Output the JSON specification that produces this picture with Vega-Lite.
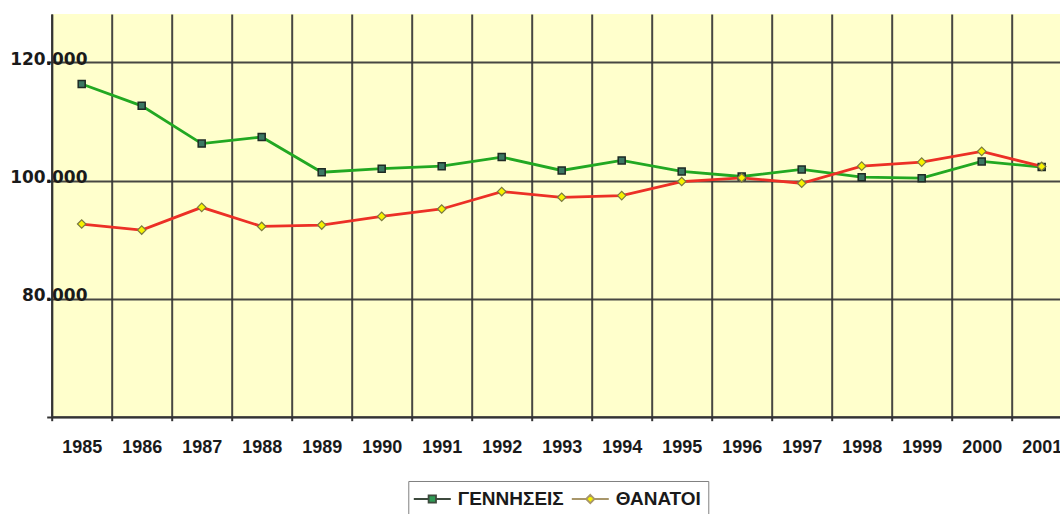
{
  "$schema": "https://vega.github.io/schema/vega-lite/v6.json",
  "width": 1020,
  "height": 402.7,
  "autosize": {"type": "none"},
  "padding": {"left": 51.7, "top": 14, "right": 0, "bottom": 97.3},
  "background": "#ffffff",
  "config": {
    "view": {"fill": "#ffffcc", "stroke": null},
    "legend": {"labelFontWeight": 700, "labelFont": "Liberation Sans", "labelFontSize": 19}
  },
  "data": {
    "values": [
      {"year": "1985", "series": "ΓΕΝΝΗΣΕΙΣ", "value": 116340},
      {"year": "1986", "series": "ΓΕΝΝΗΣΕΙΣ", "value": 112650},
      {"year": "1987", "series": "ΓΕΝΝΗΣΕΙΣ", "value": 106250},
      {"year": "1988", "series": "ΓΕΝΝΗΣΕΙΣ", "value": 107370},
      {"year": "1989", "series": "ΓΕΝΝΗΣΕΙΣ", "value": 101400},
      {"year": "1990", "series": "ΓΕΝΝΗΣΕΙΣ", "value": 102000},
      {"year": "1991", "series": "ΓΕΝΝΗΣΕΙΣ", "value": 102430},
      {"year": "1992", "series": "ΓΕΝΝΗΣΕΙΣ", "value": 103970},
      {"year": "1993", "series": "ΓΕΝΝΗΣΕΙΣ", "value": 101700},
      {"year": "1994", "series": "ΓΕΝΝΗΣΕΙΣ", "value": 103400},
      {"year": "1995", "series": "ΓΕΝΝΗΣΕΙΣ", "value": 101530},
      {"year": "1996", "series": "ΓΕΝΝΗΣΕΙΣ", "value": 100680},
      {"year": "1997", "series": "ΓΕΝΝΗΣΕΙΣ", "value": 101870},
      {"year": "1998", "series": "ΓΕΝΝΗΣΕΙΣ", "value": 100560},
      {"year": "1999", "series": "ΓΕΝΝΗΣΕΙΣ", "value": 100390},
      {"year": "2000", "series": "ΓΕΝΝΗΣΕΙΣ", "value": 103230},
      {"year": "2001", "series": "ΓΕΝΝΗΣΕΙΣ", "value": 102270},
      {"year": "1985", "series": "ΘΑΝΑΤΟΙ", "value": 92630},
      {"year": "1986", "series": "ΘΑΝΑΤΟΙ", "value": 91610},
      {"year": "1987", "series": "ΘΑΝΑΤΟΙ", "value": 95460},
      {"year": "1988", "series": "ΘΑΝΑΤΟΙ", "value": 92220},
      {"year": "1989", "series": "ΘΑΝΑΤΟΙ", "value": 92460},
      {"year": "1990", "series": "ΘΑΝΑΤΟΙ", "value": 93920},
      {"year": "1991", "series": "ΘΑΝΑΤΟΙ", "value": 95180},
      {"year": "1992", "series": "ΘΑΝΑΤΟΙ", "value": 98130},
      {"year": "1993", "series": "ΘΑΝΑΤΟΙ", "value": 97160},
      {"year": "1994", "series": "ΘΑΝΑΤΟΙ", "value": 97450},
      {"year": "1995", "series": "ΘΑΝΑΤΟΙ", "value": 99830},
      {"year": "1996", "series": "ΘΑΝΑΤΟΙ", "value": 100460},
      {"year": "1997", "series": "ΘΑΝΑΤΟΙ", "value": 99540},
      {"year": "1998", "series": "ΘΑΝΑΤΟΙ", "value": 102430},
      {"year": "1999", "series": "ΘΑΝΑΤΟΙ", "value": 103120},
      {"year": "2000", "series": "ΘΑΝΑΤΟΙ", "value": 104940},
      {"year": "2001", "series": "ΘΑΝΑΤΟΙ", "value": 102380}
    ]
  },
  "encoding": {
    "x": {
      "field": "year",
      "type": "ordinal",
      "scale": {"type": "band", "paddingInner": 0, "paddingOuter": 0},
      "axis": {
        "title": null,
        "tickBand": "extent",
        "grid": true,
        "gridColor": "#333333",
        "gridWidth": 2,
        "gridOpacity": 0.9,
        "domain": true,
        "domainColor": "#333333",
        "domainWidth": 2,
        "ticks": true,
        "tickSize": 4,
        "tickColor": "#333333",
        "tickWidth": 2,
        "labelAngle": 0,
        "labelFont": "Liberation Sans",
        "labelFontSize": 18,
        "labelFontWeight": "bold",
        "labelBaseline": "alphabetic",
        "labelPadding": 31.8,
        "labelColor": "#1a1a1a"
      }
    },
    "y": {
      "field": "value",
      "type": "quantitative",
      "scale": {"domain": [60000, 128200], "nice": false, "zero": false},
      "axis": {
        "title": null,
        "values": [60000, 80000, 100000, 120000],
        "grid": true,
        "gridColor": "#333333",
        "gridWidth": 2,
        "gridOpacity": 0.9,
        "domain": true,
        "domainColor": "#333333",
        "domainWidth": 2,
        "ticks": true,
        "tickSize": 5,
        "tickColor": "#333333",
        "tickWidth": 2,
        "labelAlign": "right",
        "labelBaseline": "alphabetic",
        "labelPadding": -40.3,
        "labelOffset": 2,
        "labelFont": "DejaVu Sans",
        "labelFontSize": 17,
        "labelFontWeight": "bold",
        "labelColor": "#1a1a1a",
        "labelOverlap": false,
        "labelExpr": "datum.value == 60000 ? '' : replace(format(datum.value, ','), ',', '.')"
      }
    }
  },
  "layer": [
    {
      "transform": [{"filter": "datum.series === 'ΓΕΝΝΗΣΕΙΣ'"}],
      "mark": {"type": "line", "strokeWidth": 2.8, "color": "#22a822"},
      "encoding": {}
    },
    {
      "transform": [{"filter": "datum.series === 'ΘΑΝΑΤΟΙ'"}],
      "mark": {"type": "line", "strokeWidth": 2.8, "color": "#ec3026"},
      "encoding": {}
    },
    {
      "transform": [{"filter": "datum.series === 'ΓΕΝΝΗΣΕΙΣ'"}],
      "mark": {"type": "point", "shape": "square", "filled": true, "fill": "#3b7762", "stroke": "#1e2a24", "strokeWidth": 1.5, "size": 49, "opacity": 1}
    },
    {
      "transform": [{"filter": "datum.series === 'ΘΑΝΑΤΟΙ'"}],
      "mark": {"type": "point", "shape": "diamond", "filled": true, "fill": "#f6f200", "stroke": "#7a7a40", "strokeWidth": 1.2, "size": 72, "opacity": 1}
    },
    {
      "mark": {"type": "point", "filled": true, "size": 0, "strokeWidth": 0},
      "encoding": {
        "shape": {
          "field": "series",
          "type": "nominal",
          "scale": {
            "domain": ["ΓΕΝΝΗΣΕΙΣ", "ΘΑΝΑΤΟΙ"],
            "range": [
              "M-1.85,0H-0.37M0.37,0H1.85M-0.37,-0.37H0.37V0.37H-0.37Z",
              "M-1.85,0H-0.42M0.42,0H1.85M0,-0.42L0.42,0L0,0.42L-0.42,0Z"
            ]
          },
          "legend": {
            "title": null,
            "orient": "none",
            "legendX": 356.6,
            "legendY": 467,
            "direction": "horizontal",
            "symbolSize": 400,
            "symbolStrokeWidth": 1.8,
            "symbolOpacity": 1,
            "symbolOffset": 6,
            "labelOffset": 14.5,
            "columnPadding": 3,
            "padding": 7,
            "strokeColor": "#808080",
            "fillColor": "#ffffff",
            "labelFont": "Liberation Sans",
            "labelFontSize": 19,
            "labelFontWeight": 700,
            "labelColor": "#1a1a1a"
          }
        },
        "fill": {
          "field": "series",
          "type": "nominal",
          "scale": {"domain": ["ΓΕΝΝΗΣΕΙΣ", "ΘΑΝΑΤΟΙ"], "range": ["#2f9a55", "#f6f200"]}
        },
        "stroke": {
          "field": "series",
          "type": "nominal",
          "scale": {"domain": ["ΓΕΝΝΗΣΕΙΣ", "ΘΑΝΑΤΟΙ"], "range": ["#3d4a3d", "#a8966a"]}
        }
      }
    }
  ]
}
